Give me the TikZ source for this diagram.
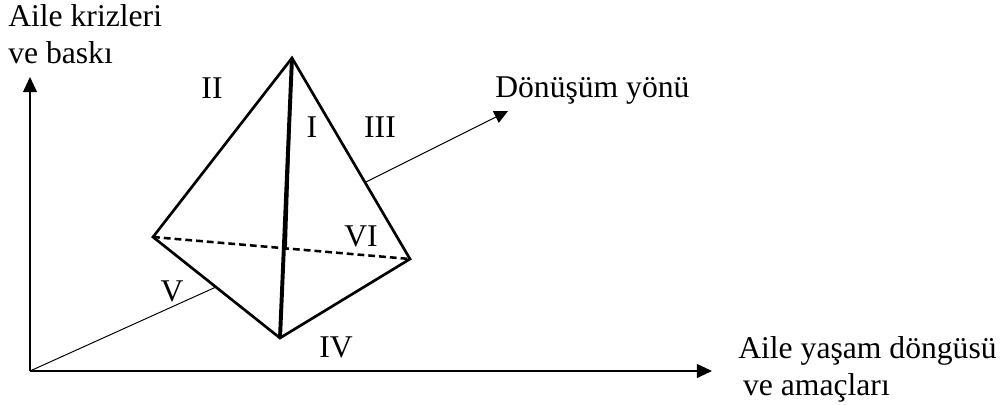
\documentclass[tikz,border=0pt]{standalone}
\usepackage{fontspec}
\setmainfont{Liberation Serif}
\usetikzlibrary{arrows.meta,positioning,calc}
\tikzset{
	axis/.style={-{Triangle[length=3.8mm, width=3.5mm]}, line width=0.9pt},
	dirline/.style={line width=0.7pt},
	edge/.style={line width=1.9pt, line join=miter},
	thickedge/.style={line width=2.8pt},
	hiddenedge/.style={line width=1.8pt, dash pattern=on 1.7mm off 1mm},
	txt/.style={font=\fontsize{22.5}{26.3}\selectfont, inner sep=0pt, align=left},
	numlabel/.style={font=\fontsize{22.5}{26.3}\selectfont, inner sep=0pt}
}

\begin{document}
\begin{tikzpicture}[x=0.025cm, y=-0.025cm]
	\useasboundingbox (0,0) rectangle (1003,404);
	% axes
	\coordinate (O) at (30,371);
	\coordinate (ytip) at (30,77);
	\coordinate (xtip) at (712,371);
	\draw[axis] (O) -- (ytip);
	\draw[axis] (O) -- (xtip);

	% tetrahedron corners
	\coordinate (top) at (292,58);
	\coordinate (left) at (153,237);
	\coordinate (right) at (410,259);
	\coordinate (bottom) at (280,338);
	\coordinate (mid) at (286,250);

	% direction of change (hidden behind the body)
	\coordinate (din) at (216,287);
	\coordinate (dout) at (366,182);
	\coordinate (dtip) at (508,111);
	\draw[dirline] (O) -- (din);
	\draw[dirline, -{Triangle[length=3.4mm, width=3.2mm]}] (dout) -- (dtip);

	\draw[edge] (left) -- (top) -- (right) -- (bottom) -- cycle;
	\draw[hiddenedge] (left) -- (right);
	\draw[thickedge] (top) -- (bottom);
	\draw[line width=1.2pt] (top) -- (mid);

	% texts
	\node[txt, anchor=base west] (ylabel) at (8,63) {Aile krizleri\\ve baskı};
	\node[txt, anchor=base west] (xlabel) at (738,395) {Aile yaşam döngüsü\\\hspace{0.12cm}ve amaçları};
	\node[txt, anchor=base west] (dlabel) at (495,97) {Dönüşüm yönü};
	\node[numlabel] (f1) at (312,127) {I};
	\node[numlabel] (f2) at (212,88) {II};
	\node[numlabel] (f3) at (380,127) {III};
	\node[numlabel] (f4) at (336,347) {IV};
	\node[numlabel] (f5) at (172,291) {V};
	\node[numlabel] (f6) at (361,236) {VI};
\end{tikzpicture}
\end{document}
